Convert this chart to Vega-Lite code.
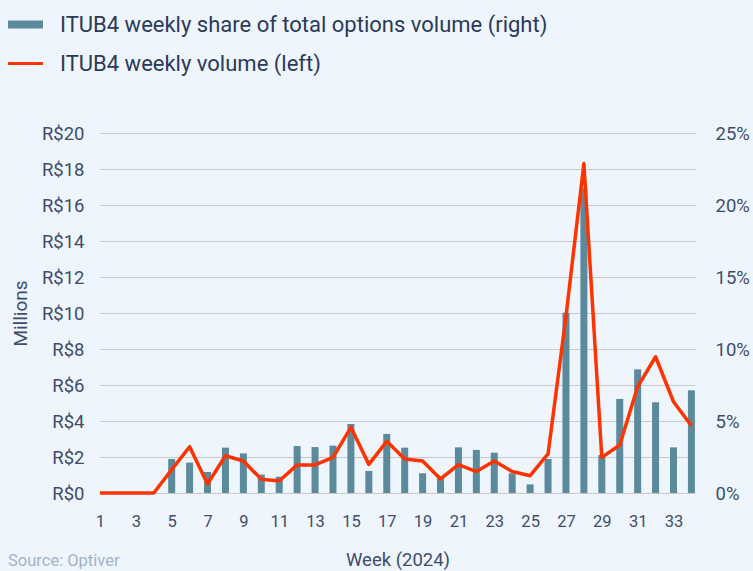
{
  "$schema": "https://vega.github.io/schema/vega-lite/v6.json",
  "width": 595,
  "height": 360,
  "autosize": {"type": "none"},
  "padding": {"left": 100, "top": 133, "right": 58, "bottom": 78},
  "background": "#eef5fc",
  "config": {
    "view": {"stroke": null},
    "font": "Roboto",
    "axis": {
      "domain": false,
      "ticks": false,
      "labelColor": "#3f4d6b",
      "titleColor": "#3f4d6b",
      "labelFont": "Roboto",
      "titleFont": "Roboto",
      "titleFontWeight": "normal",
      "gridColor": "#c9c9c9",
      "gridWidth": 1
    }
  },
  "title": {
    "text": "Source: Optiver",
    "orient": "bottom",
    "anchor": "start",
    "frame": "bounds",
    "fontSize": 16.5,
    "fontWeight": "normal",
    "font": "Roboto",
    "color": "#a3b3c9",
    "offset": -16
  },
  "data": {
    "values": [
      {"week": 1, "share": 0, "volume": 0},
      {"week": 2, "share": 0, "volume": 0},
      {"week": 3, "share": 0, "volume": 0},
      {"week": 4, "share": 0, "volume": 0},
      {"week": 5, "share": 2.36, "volume": 1.3},
      {"week": 6, "share": 2.11, "volume": 2.57},
      {"week": 7, "share": 1.46, "volume": 0.5},
      {"week": 8, "share": 3.15, "volume": 2.07},
      {"week": 9, "share": 2.75, "volume": 1.78},
      {"week": 10, "share": 1.28, "volume": 0.76},
      {"week": 11, "share": 1.13, "volume": 0.67},
      {"week": 12, "share": 3.26, "volume": 1.56},
      {"week": 13, "share": 3.19, "volume": 1.56},
      {"week": 14, "share": 3.29, "volume": 1.98},
      {"week": 15, "share": 4.79, "volume": 3.65},
      {"week": 16, "share": 1.53, "volume": 1.59},
      {"week": 17, "share": 4.10, "volume": 2.87},
      {"week": 18, "share": 3.15, "volume": 1.89},
      {"week": 19, "share": 1.37, "volume": 1.78},
      {"week": 20, "share": 1.02, "volume": 0.78},
      {"week": 21, "share": 3.17, "volume": 1.57},
      {"week": 22, "share": 2.99, "volume": 1.19},
      {"week": 23, "share": 2.80, "volume": 1.78},
      {"week": 24, "share": 1.37, "volume": 1.19},
      {"week": 25, "share": 0.60, "volume": 0.96},
      {"week": 26, "share": 2.36, "volume": 2.17},
      {"week": 27, "share": 12.52, "volume": 9.8},
      {"week": 28, "share": 21.16, "volume": 18.3},
      {"week": 29, "share": 2.64, "volume": 1.98},
      {"week": 30, "share": 6.53, "volume": 2.67},
      {"week": 31, "share": 8.59, "volume": 5.9},
      {"week": 32, "share": 6.30, "volume": 7.57},
      {"week": 33, "share": 3.17, "volume": 5.07},
      {"week": 34, "share": 7.13, "volume": 3.74}
    ]
  },
  "encoding": {
    "x": {
      "field": "week",
      "type": "quantitative",
      "scale": {"domain": [1, 34.2], "nice": false, "zero": false, "padding": 0},
      "axis": {
        "values": [1, 3, 5, 7, 9, 11, 13, 15, 17, 19, 21, 23, 25, 27, 29, 31, 33],
        "grid": false,
        "labelFontSize": 16.5,
        "labelPadding": 20,
        "labelOverlap": false,
        "labelFlush": false,
        "labelBound": false,
        "title": "Week (2024)",
        "titleFontSize": 18.5,
        "titlePadding": 21
      }
    }
  },
  "layer": [
    {
      "mark": {"type": "bar", "width": 7},
      "encoding": {
        "y": {
          "field": "share",
          "type": "quantitative",
          "scale": {"domain": [0, 25], "nice": false},
          "axis": {
            "orient": "right",
            "values": [0, 5, 10, 15, 20, 25],
            "labelExpr": "datum.value + '%'",
            "grid": false,
            "labelFontSize": 18.5,
            "labelPadding": 20,
            "title": null
          }
        },
        "color": {
          "datum": "ITUB4 weekly share of total options volume (right)",
          "scale": {
            "domain": ["ITUB4 weekly share of total options volume (right)", "ITUB4 weekly volume (left)"],
            "range": ["#5b8a9d", "#ff3300"]
          },
          "legend": {
            "orient": "none",
            "legendX": -92,
            "legendY": -126,
            "title": null,
            "direction": "vertical",
            "labelFontSize": 22,
            "labelFont": "Roboto",
            "labelColor": "#2b3a5a",
            "labelOffset": 17,
            "symbolSize": 1225,
            "rowPadding": 10,
            "labelLimit": 700,
            "encode": {
              "symbols": {
                "update": {
                  "shape": {"signal": "datum.value == 'ITUB4 weekly volume (left)' ? 'M-1,-0.09H1V0.09H-1Z' : 'M-1,-0.23H1V0.23H-1Z'"},
                  "fill": {"scale": "color", "field": "value"},
                  "stroke": {"value": "transparent"},
                  "strokeWidth": {"value": 0}
                }
              }
            }
          }
        }
      }
    },
    {
      "mark": {"type": "line", "strokeWidth": 3.5, "strokeJoin": "round"},
      "encoding": {
        "y": {
          "field": "volume",
          "type": "quantitative",
          "scale": {"domain": [0, 20], "nice": false},
          "axis": {
            "orient": "left",
            "values": [0, 2, 4, 6, 8, 10, 12, 14, 16, 18, 20],
            "labelExpr": "'R$' + datum.value",
            "grid": true,
            "labelFontSize": 18.5,
            "labelPadding": 16,
            "title": "Millions",
            "titleFontSize": 19,
            "titlePadding": 11
          }
        },
        "color": {"datum": "ITUB4 weekly volume (left)"}
      }
    }
  ],
  "resolve": {"scale": {"y": "independent"}}
}
